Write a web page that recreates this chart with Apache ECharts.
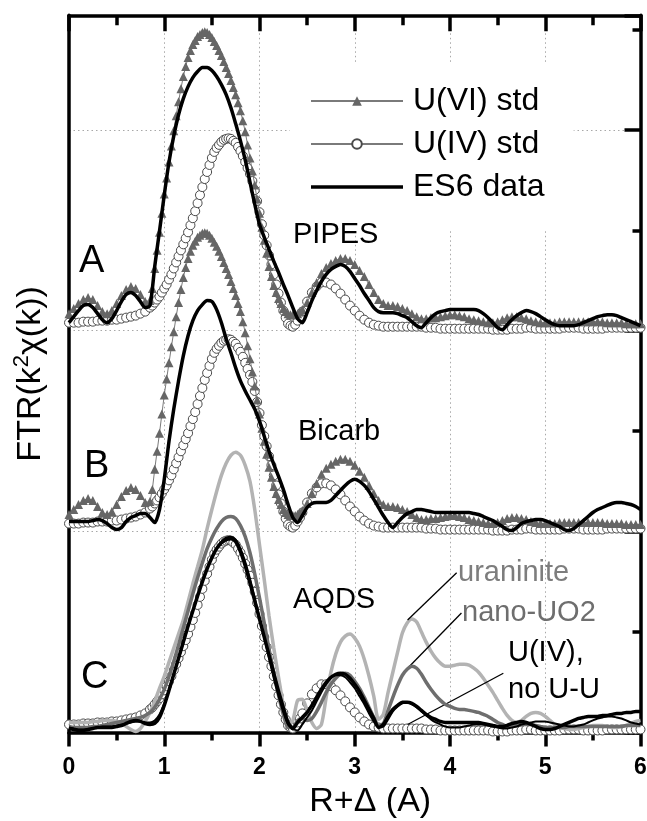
<!DOCTYPE html>
<html>
<head>
<meta charset="utf-8">
<script src="https://cdn.jsdelivr.net/npm/echarts/dist/echarts.min.js"></script>
<style>
  html, body { margin: 0; padding: 0; background: #fff; }
  #chart { width: 647px; height: 821px; }
</style>
</head>
<body>
<div id="chart"></div>
<script>
// Sample positions along R+Δ (Å), one value every 0.05 Å
const R_STEP = 0.05;
const R = Array.from({ length: 121 }, (_, i) => +(i * R_STEP).toFixed(2));
// Extra positions on the main peak where the standards were read more finely
const R_FINE = [
  0.875,0.925,0.975,1.025,1.075,1.125,1.175,1.225,1.275,1.325,
  1.375,1.425,1.475,1.525,1.575,1.625,1.675,1.725,1.775,1.825,
  1.875,1.925,1.975,2.025,2.075,2.125,2.175,2.225,2.275,2.325,
  2.375,2.425
];

// Vertical offsets of the three stacked panels
const OFFSET_A = 4, OFFSET_B = 2, OFFSET_C = 0;

// U(VI) standard (triangles)
const u6Std = [
  0.17,0.22,0.27,0.31,0.33,0.31,0.25,0.19,0.17,0.20,
  0.27,0.35,0.41,0.44,0.42,0.36,0.29,0.30,0.62,0.98,
  1.36,1.68,1.99,2.28,2.53,2.72,2.85,2.93,2.97,2.97,
  2.92,2.84,2.74,2.62,2.49,2.35,2.19,1.98,1.72,1.45,
  1.17,0.90,0.64,0.45,0.32,0.22,0.17,0.16,0.17,0.21,
  0.28,0.38,0.48,0.57,0.63,0.67,0.70,0.72,0.72,0.70,
  0.66,0.60,0.54,0.46,0.38,0.31,0.27,0.25,0.25,0.24,
  0.22,0.20,0.17,0.14,0.12,0.12,0.13,0.13,0.14,0.15,
  0.16,0.16,0.15,0.14,0.12,0.11,0.10,0.09,0.08,0.08,
  0.09,0.11,0.13,0.14,0.14,0.13,0.12,0.10,0.09,0.08,
  0.08,0.08,0.08,0.09,0.09,0.09,0.09,0.09,0.09,0.09,
  0.09,0.09,0.09,0.08,0.08,0.08,0.08,0.07,0.07,0.07,
  0.07
];
const u6StdFine = [
  0.42,0.80,1.17,1.52,1.84,2.14,2.41,2.63,2.79,2.89,
  2.95,2.975,2.95,2.88,2.79,2.68,2.56,2.42,2.27,2.09,
  1.85,1.59,1.31,1.03,0.77,0.54,0.38,0.27,0.19,0.16,
  0.16,0.19
];

// U(IV) standard (open circles)
const u4Std = [
  0.08,0.08,0.08,0.09,0.09,0.09,0.10,0.10,0.10,0.11,
  0.11,0.12,0.13,0.14,0.15,0.17,0.19,0.23,0.28,0.34,
  0.42,0.51,0.62,0.74,0.86,0.98,1.12,1.27,1.43,1.58,
  1.72,1.82,1.88,1.91,1.91,1.87,1.79,1.68,1.56,1.40,
  1.18,0.95,0.75,0.56,0.37,0.20,0.07,0.04,0.10,0.19,
  0.29,0.38,0.44,0.48,0.48,0.46,0.42,0.37,0.31,0.25,
  0.20,0.15,0.11,0.08,0.06,0.05,0.04,0.04,0.04,0.04,
  0.04,0.04,0.04,0.04,0.04,0.03,0.03,0.03,0.02,0.02,
  0.02,0.02,0.02,0.02,0.02,0.02,0.02,0.02,0.02,0.01,
  0.01,0.01,0.01,0.02,0.02,0.02,0.03,0.03,0.02,0.02,
  0.02,0.02,0.02,0.02,0.03,0.03,0.03,0.03,0.02,0.02,
  0.02,0.02,0.02,0.03,0.03,0.03,0.03,0.03,0.03,0.03,
  0.03
];
const u4StdFine = [
  0.25,0.31,0.38,0.46,0.56,0.68,0.80,0.92,1.05,1.19,
  1.35,1.51,1.65,1.78,1.85,1.90,1.915,1.89,1.83,1.74,
  1.62,1.49,1.29,1.06,0.85,0.66,0.46,0.28,0.13,0.05,
  0.06,0.14
];

// ES6 data, PIPES
const es6Pipes = [
  0.08,0.14,0.20,0.25,0.26,0.23,0.17,0.11,0.08,0.12,
  0.20,0.29,0.36,0.38,0.35,0.29,0.23,0.25,0.64,0.99,
  1.35,1.68,1.94,2.15,2.31,2.43,2.52,2.58,2.62,2.62,
  2.59,2.53,2.45,2.35,2.22,2.06,1.89,1.70,1.48,1.26,
  1.06,0.93,0.81,0.69,0.58,0.46,0.35,0.23,0.12,0.08,
  0.18,0.30,0.40,0.49,0.56,0.61,0.64,0.66,0.64,0.59,
  0.52,0.45,0.37,0.30,0.23,0.19,0.18,0.18,0.18,0.17,
  0.15,0.13,0.09,0.05,0.03,0.08,0.13,0.17,0.19,0.20,
  0.21,0.21,0.21,0.21,0.21,0.21,0.20,0.17,0.13,0.08,
  0.03,0.01,0.06,0.11,0.15,0.18,0.20,0.19,0.17,0.14,
  0.11,0.08,0.06,0.05,0.05,0.05,0.05,0.06,0.08,0.10,
  0.12,0.14,0.15,0.16,0.16,0.15,0.13,0.11,0.09,0.07,
  0.05
];

// ES6 data, Bicarb
const es6Bicarb = [
  0.10,0.10,0.10,0.10,0.10,0.11,0.12,0.11,0.08,0.04,
  0.02,0.04,0.10,0.14,0.16,0.18,0.18,0.14,0.09,0.22,
  0.52,0.90,1.22,1.50,1.75,1.95,2.10,2.20,2.26,2.30,
  2.29,2.21,2.08,1.92,1.78,1.63,1.50,1.40,1.31,1.22,
  1.10,0.95,0.80,0.67,0.55,0.42,0.27,0.14,0.09,0.16,
  0.24,0.28,0.29,0.29,0.29,0.31,0.36,0.41,0.46,0.50,
  0.52,0.50,0.46,0.40,0.32,0.24,0.16,0.09,0.04,0.09,
  0.14,0.18,0.20,0.22,0.22,0.21,0.20,0.19,0.19,0.19,
  0.19,0.19,0.19,0.19,0.19,0.18,0.17,0.15,0.13,0.11,
  0.08,0.05,0.02,0.01,0.04,0.08,0.10,0.11,0.12,0.12,
  0.11,0.09,0.07,0.05,0.02,0.01,0.03,0.07,0.11,0.15,
  0.19,0.22,0.24,0.26,0.28,0.29,0.29,0.28,0.27,0.25,
  0.22
];

// ES6 data, AQDS
const es6Aqds = [
  0.04,0.03,0.02,0.02,0.03,0.04,0.05,0.05,0.05,0.05,
  0.06,0.07,0.09,0.11,0.12,0.11,0.09,0.08,0.09,0.15,
  0.27,0.42,0.58,0.74,0.90,1.06,1.21,1.36,1.50,1.63,
  1.74,1.83,1.89,1.92,1.93,1.90,1.80,1.66,1.49,1.31,
  1.13,0.95,0.77,0.59,0.41,0.25,0.10,0.04,0.10,0.15,
  0.20,0.27,0.35,0.43,0.50,0.55,0.58,0.59,0.58,0.54,
  0.48,0.41,0.32,0.23,0.14,0.05,0.08,0.16,0.23,0.27,
  0.30,0.30,0.29,0.26,0.22,0.18,0.15,0.13,0.11,0.10,
  0.10,0.10,0.10,0.10,0.10,0.10,0.10,0.09,0.08,0.07,
  0.06,0.06,0.07,0.09,0.10,0.11,0.10,0.08,0.06,0.04,
  0.03,0.03,0.04,0.06,0.08,0.10,0.12,0.14,0.15,0.16,
  0.16,0.16,0.17,0.17,0.18,0.19,0.19,0.20,0.20,0.21,
  0.21
];

// Second AQDS trace (thin black)
const aqdsThin = [
  0.05,0.04,0.03,0.03,0.03,0.04,0.05,0.06,0.06,0.06,
  0.07,0.08,0.09,0.10,0.11,0.11,0.10,0.10,0.12,0.18,
  0.29,0.43,0.58,0.73,0.89,1.05,1.21,1.36,1.51,1.64,
  1.75,1.84,1.90,1.94,1.95,1.92,1.83,1.70,1.53,1.34,
  1.14,0.94,0.74,0.54,0.36,0.20,0.08,0.04,0.02,0.08,
  0.15,0.22,0.31,0.40,0.48,0.54,0.57,0.57,0.55,0.50,
  0.44,0.36,0.28,0.19,0.11,0.05,0.06,0.13,0.21,0.26,
  0.29,0.30,0.28,0.25,0.21,0.17,0.13,0.10,0.08,0.06,
  0.05,0.05,0.05,0.06,0.07,0.08,0.08,0.08,0.07,0.06,
  0.05,0.04,0.04,0.05,0.06,0.08,0.09,0.10,0.11,0.11,
  0.11,0.10,0.09,0.08,0.07,0.06,0.06,0.07,0.08,0.10,
  0.12,0.14,0.15,0.16,0.16,0.15,0.14,0.12,0.10,0.09,
  0.08
];

// Uraninite reference
const uraninite = [
  0.10,0.10,0.10,0.10,0.10,0.11,0.11,0.12,0.12,0.12,
  0.11,0.09,0.06,0.03,0.01,0.04,0.11,0.20,0.31,0.44,
  0.56,0.70,0.84,0.98,1.12,1.30,1.48,1.65,1.82,2.03,
  2.22,2.40,2.56,2.68,2.76,2.79,2.76,2.66,2.50,2.22,
  1.87,1.52,1.16,0.84,0.55,0.27,0.07,0.12,0.32,0.33,
  0.22,0.10,0.04,0.08,0.35,0.60,0.78,0.90,0.96,0.98,
  0.94,0.86,0.73,0.56,0.36,0.13,0.18,0.40,0.60,0.80,
  0.99,1.09,1.13,1.10,1.00,0.90,0.81,0.74,0.69,0.66,
  0.66,0.67,0.68,0.68,0.67,0.64,0.60,0.54,0.47,0.40,
  0.32,0.24,0.17,0.12,0.10,0.12,0.16,0.19,0.20,0.19,
  0.16,0.12,0.08,0.05,0.04,0.03,0.03,0.04,0.05,0.06,
  0.07,0.07,0.07,0.06,0.05,0.05,0.06,0.07,0.09,0.11,
  0.12
];

// Nano-UO2 reference
const nanoUO2 = [
  0.06,0.05,0.05,0.05,0.05,0.06,0.06,0.07,0.08,0.09,
  0.10,0.11,0.12,0.13,0.14,0.15,0.17,0.20,0.25,0.33,
  0.43,0.56,0.71,0.87,1.04,1.21,1.38,1.54,1.69,1.83,
  1.94,2.03,2.10,2.14,2.15,2.13,2.06,1.95,1.79,1.58,
  1.34,1.09,0.83,0.59,0.37,0.18,0.05,0.05,0.12,0.14,
  0.12,0.14,0.21,0.30,0.40,0.48,0.54,0.58,0.59,0.57,
  0.51,0.44,0.35,0.25,0.15,0.07,0.09,0.22,0.35,0.47,
  0.57,0.63,0.66,0.64,0.58,0.50,0.43,0.37,0.32,0.28,
  0.26,0.24,0.23,0.23,0.22,0.21,0.20,0.18,0.16,0.13,
  0.10,0.08,0.06,0.06,0.07,0.08,0.08,0.08,0.07,0.06,
  0.05,0.05,0.05,0.05,0.05,0.06,0.06,0.06,0.06,0.06,
  0.06,0.06,0.06,0.06,0.06,0.06,0.06,0.07,0.07,0.07,
  0.07
];

// Axis ranges
const X_TICKS = { min: 0, max: 6, step: 1 };
const Y_RANGE = { min: 0, max: 7.14 };

const FONT = '"Liberation Sans", Arial, Helvetica, sans-serif';

function pts(vals, off) {
  return R.map((r, i) => [r, +(vals[i] + off).toFixed(3)]);
}
// Coarse and fine readings of a standard, merged in R order
function ptsWithFine(vals, fineVals, off) {
  const all = R.map((r, i) => [r, vals[i]]);
  R_FINE.forEach((r, i) => all.push([r, fineVals[i]]));
  all.sort((p, q) => p[0] - q[0]);
  return all.map(p => [p[0], +(p[1] + off).toFixed(3)]);
}

function triSeries(off) {
  return {
    type: 'line', name: 'U(VI) std', data: ptsWithFine(u6Std, u6StdFine, off),
    symbol: 'triangle', symbolSize: 9, showSymbol: true,
    itemStyle: { color: '#666666' },
    lineStyle: { color: '#7a7a7a', width: 1 },
    z: 3, silent: true, emphasis: { disabled: true }
  };
}
function circSeries(off) {
  return {
    type: 'line', name: 'U(IV) std', data: ptsWithFine(u4Std, u4StdFine, off),
    symbol: 'circle', symbolSize: 9, showSymbol: true,
    itemStyle: { color: '#ffffff', borderColor: '#4a4a4a', borderWidth: 1 },
    lineStyle: { color: '#7a7a7a', width: 1 },
    z: 2, silent: true, emphasis: { disabled: true }
  };
}
function lineSeries(name, vals, off, color, width, z) {
  return {
    type: 'line', name: name, data: pts(vals, off),
    symbol: 'none', smooth: 0.25,
    lineStyle: { color: color, width: width },
    itemStyle: { color: color },
    z: z, silent: true, emphasis: { disabled: true }
  };
}

const chart = echarts.init(document.getElementById('chart'), null, { renderer: 'canvas' });

const axisLineStyle = { color: '#000', width: 3.5 };
const gridDots = { color: '#a8a8a8', width: 1, type: [1.5, 3] };
const GRID_BOX = { left: 69, right: 6.5, top: 15.3, bottom: 88.5, outerBoundsMode: 'none' };

// Guide line at 3.55 Å and the leaders to the reference names
const leaderLines = {
  silent: true, symbol: ['none', 'none'], label: { show: false },
  lineStyle: { color: '#000', width: 1.3, type: 'solid' },
  emphasis: { disabled: true }, animation: false,
  data: [
    [{ coord: [3.55, 1.54] }, { coord: [3.55, -0.1] }],
    [{ coord: [3.555, 1.12] }, { coord: [4.07, 1.59] }],
    [{ coord: [3.555, 0.64] }, { coord: [4.12, 1.19] }],
    [{ coord: [3.555, 0.08] }, { coord: [4.56, 0.59] }]
  ]
};

const aqdsMain = lineSeries('ES6 data', es6Aqds, OFFSET_C, '#000', 3.5, 6);
aqdsMain.clip = false;
aqdsMain.markLine = leaderLines;

function label(text, x, y, size, color) {
  return {
    type: 'text', x: x, y: y, silent: true, z: 10,
    style: { text: text, fontSize: size, fontFamily: FONT, fill: color || '#000',
             align: 'left', verticalAlign: 'middle' }
  };
}

chart.setOption({
  animation: false,
  backgroundColor: '#fff',
  textStyle: { fontFamily: FONT },
  grid: [Object.assign({}, GRID_BOX), Object.assign({}, GRID_BOX)],
  legend: {
    data: [
      { name: 'U(VI) std' },
      { name: 'U(IV) std' },
      { name: 'ES6 data', icon: 'path://M0,0H92V3.5H0Z' }
    ],
    orient: 'vertical', left: 290, top: 63,
    padding: [22, 29, 26, 20],
    itemWidth: 92, itemHeight: 12, itemGap: 11,
    backgroundColor: '#fff', selectedMode: false,
    textStyle: { fontSize: 32, color: '#000', fontFamily: FONT, lineHeight: 30, padding: [0, 0, 0, 5] }
  },
  xAxis: [
    {
      gridIndex: 0, type: 'value', min: X_TICKS.min, max: X_TICKS.max, interval: X_TICKS.step, position: 'bottom',
      axisLine: { show: true, onZero: false, lineStyle: axisLineStyle },
      axisTick: { show: true, inside: false, length: 14, lineStyle: axisLineStyle },
      minorTick: { show: true, splitNumber: 2, length: 8, lineStyle: axisLineStyle },
      axisLabel: { fontSize: 23, fontWeight: 'bold', color: '#000', margin: 24, fontFamily: FONT },
      splitLine: { show: true, lineStyle: gridDots },
      name: 'R+Δ (A)', nameLocation: 'middle', nameGap: 46,
      nameTextStyle: { fontSize: 34, color: '#000', fontFamily: FONT, padding: [0, 0, 0, 31] }
    },
    {
      gridIndex: 0, type: 'value', min: X_TICKS.min, max: X_TICKS.max, interval: X_TICKS.step, position: 'top',
      axisLine: { show: true, onZero: false, lineStyle: axisLineStyle },
      axisTick: { show: true, inside: true, length: 16, lineStyle: axisLineStyle },
      minorTick: { show: true, splitNumber: 2, length: 10, lineStyle: axisLineStyle },
      axisLabel: { show: false }, splitLine: { show: false }
    },
    {
      gridIndex: 1, type: 'value', min: X_TICKS.min, max: X_TICKS.max, show: false,
      axisLine: { onZero: false }
    }
  ],
  yAxis: [
    {
      gridIndex: 0, type: 'value', min: Y_RANGE.min, max: Y_RANGE.max, interval: 2, position: 'left',
      axisLine: { show: true, onZero: false, lineStyle: axisLineStyle },
      axisTick: { show: false }, axisLabel: { show: false },
      splitLine: { show: true, lineStyle: gridDots },
      name: '{a|FTR(k}{s|2}{a|χ(k))}', nameLocation: 'middle', nameGap: 18, nameRotate: 90,
      nameTextStyle: {
        color: '#000', fontFamily: FONT,
        rich: {
          a: { fontSize: 34, lineHeight: 40, fontFamily: FONT, color: '#000' },
          s: { fontSize: 22, lineHeight: 24, verticalAlign: 'top', fontFamily: FONT, color: '#000' }
        }
      }
    },
    {
      gridIndex: 0, type: 'value', min: Y_RANGE.min, max: Y_RANGE.max, interval: 2, position: 'right',
      axisLine: { show: true, onZero: false, lineStyle: axisLineStyle },
      axisTick: { show: true, inside: true, length: 16, lineStyle: axisLineStyle },
      axisLabel: { show: false }, splitLine: { show: false }
    },
    {
      gridIndex: 1, type: 'value', min: Y_RANGE.min, max: Y_RANGE.max, interval: 1, position: 'right',
      axisLine: { show: false, onZero: false },
      axisTick: { show: true, inside: true, length: 8, lineStyle: axisLineStyle },
      axisLabel: { show: false }, splitLine: { show: false }
    }
  ],
  series: [
    // Panel A: PIPES
    circSeries(OFFSET_A),
    triSeries(OFFSET_A),
    lineSeries('ES6 data', es6Pipes, OFFSET_A, '#000', 3.5, 6),
    // Panel B: Bicarb
    circSeries(OFFSET_B),
    triSeries(OFFSET_B),
    lineSeries('ES6 data', es6Bicarb, OFFSET_B, '#000', 3.5, 6),
    // Panel C: AQDS with references
    circSeries(OFFSET_C),
    lineSeries('uraninite', uraninite, OFFSET_C, '#b3b3b3', 3.5, 4),
    lineSeries('nano-UO2', nanoUO2, OFFSET_C, '#6e6e6e', 3.5, 5),
    lineSeries('AQDS fit', aqdsThin, OFFSET_C, '#000', 2, 6),
    aqdsMain
  ],
  graphic: [
    label('A', 79, 262, 38),
    label('B', 84, 467, 38),
    label('C', 81, 678, 38),
    label('PIPES', 293, 235, 29),
    label('Bicarb', 298, 432, 29),
    label('AQDS', 293, 600, 29),
    label('uraninite', 458, 573, 29, '#7d7d7d'),
    label('nano-UO2', 462, 613, 29, '#6e6e6e'),
    label('U(IV),', 508, 653, 29),
    label('no U-U', 508, 690, 29)
  ]
});
</script>
</body>
</html>
